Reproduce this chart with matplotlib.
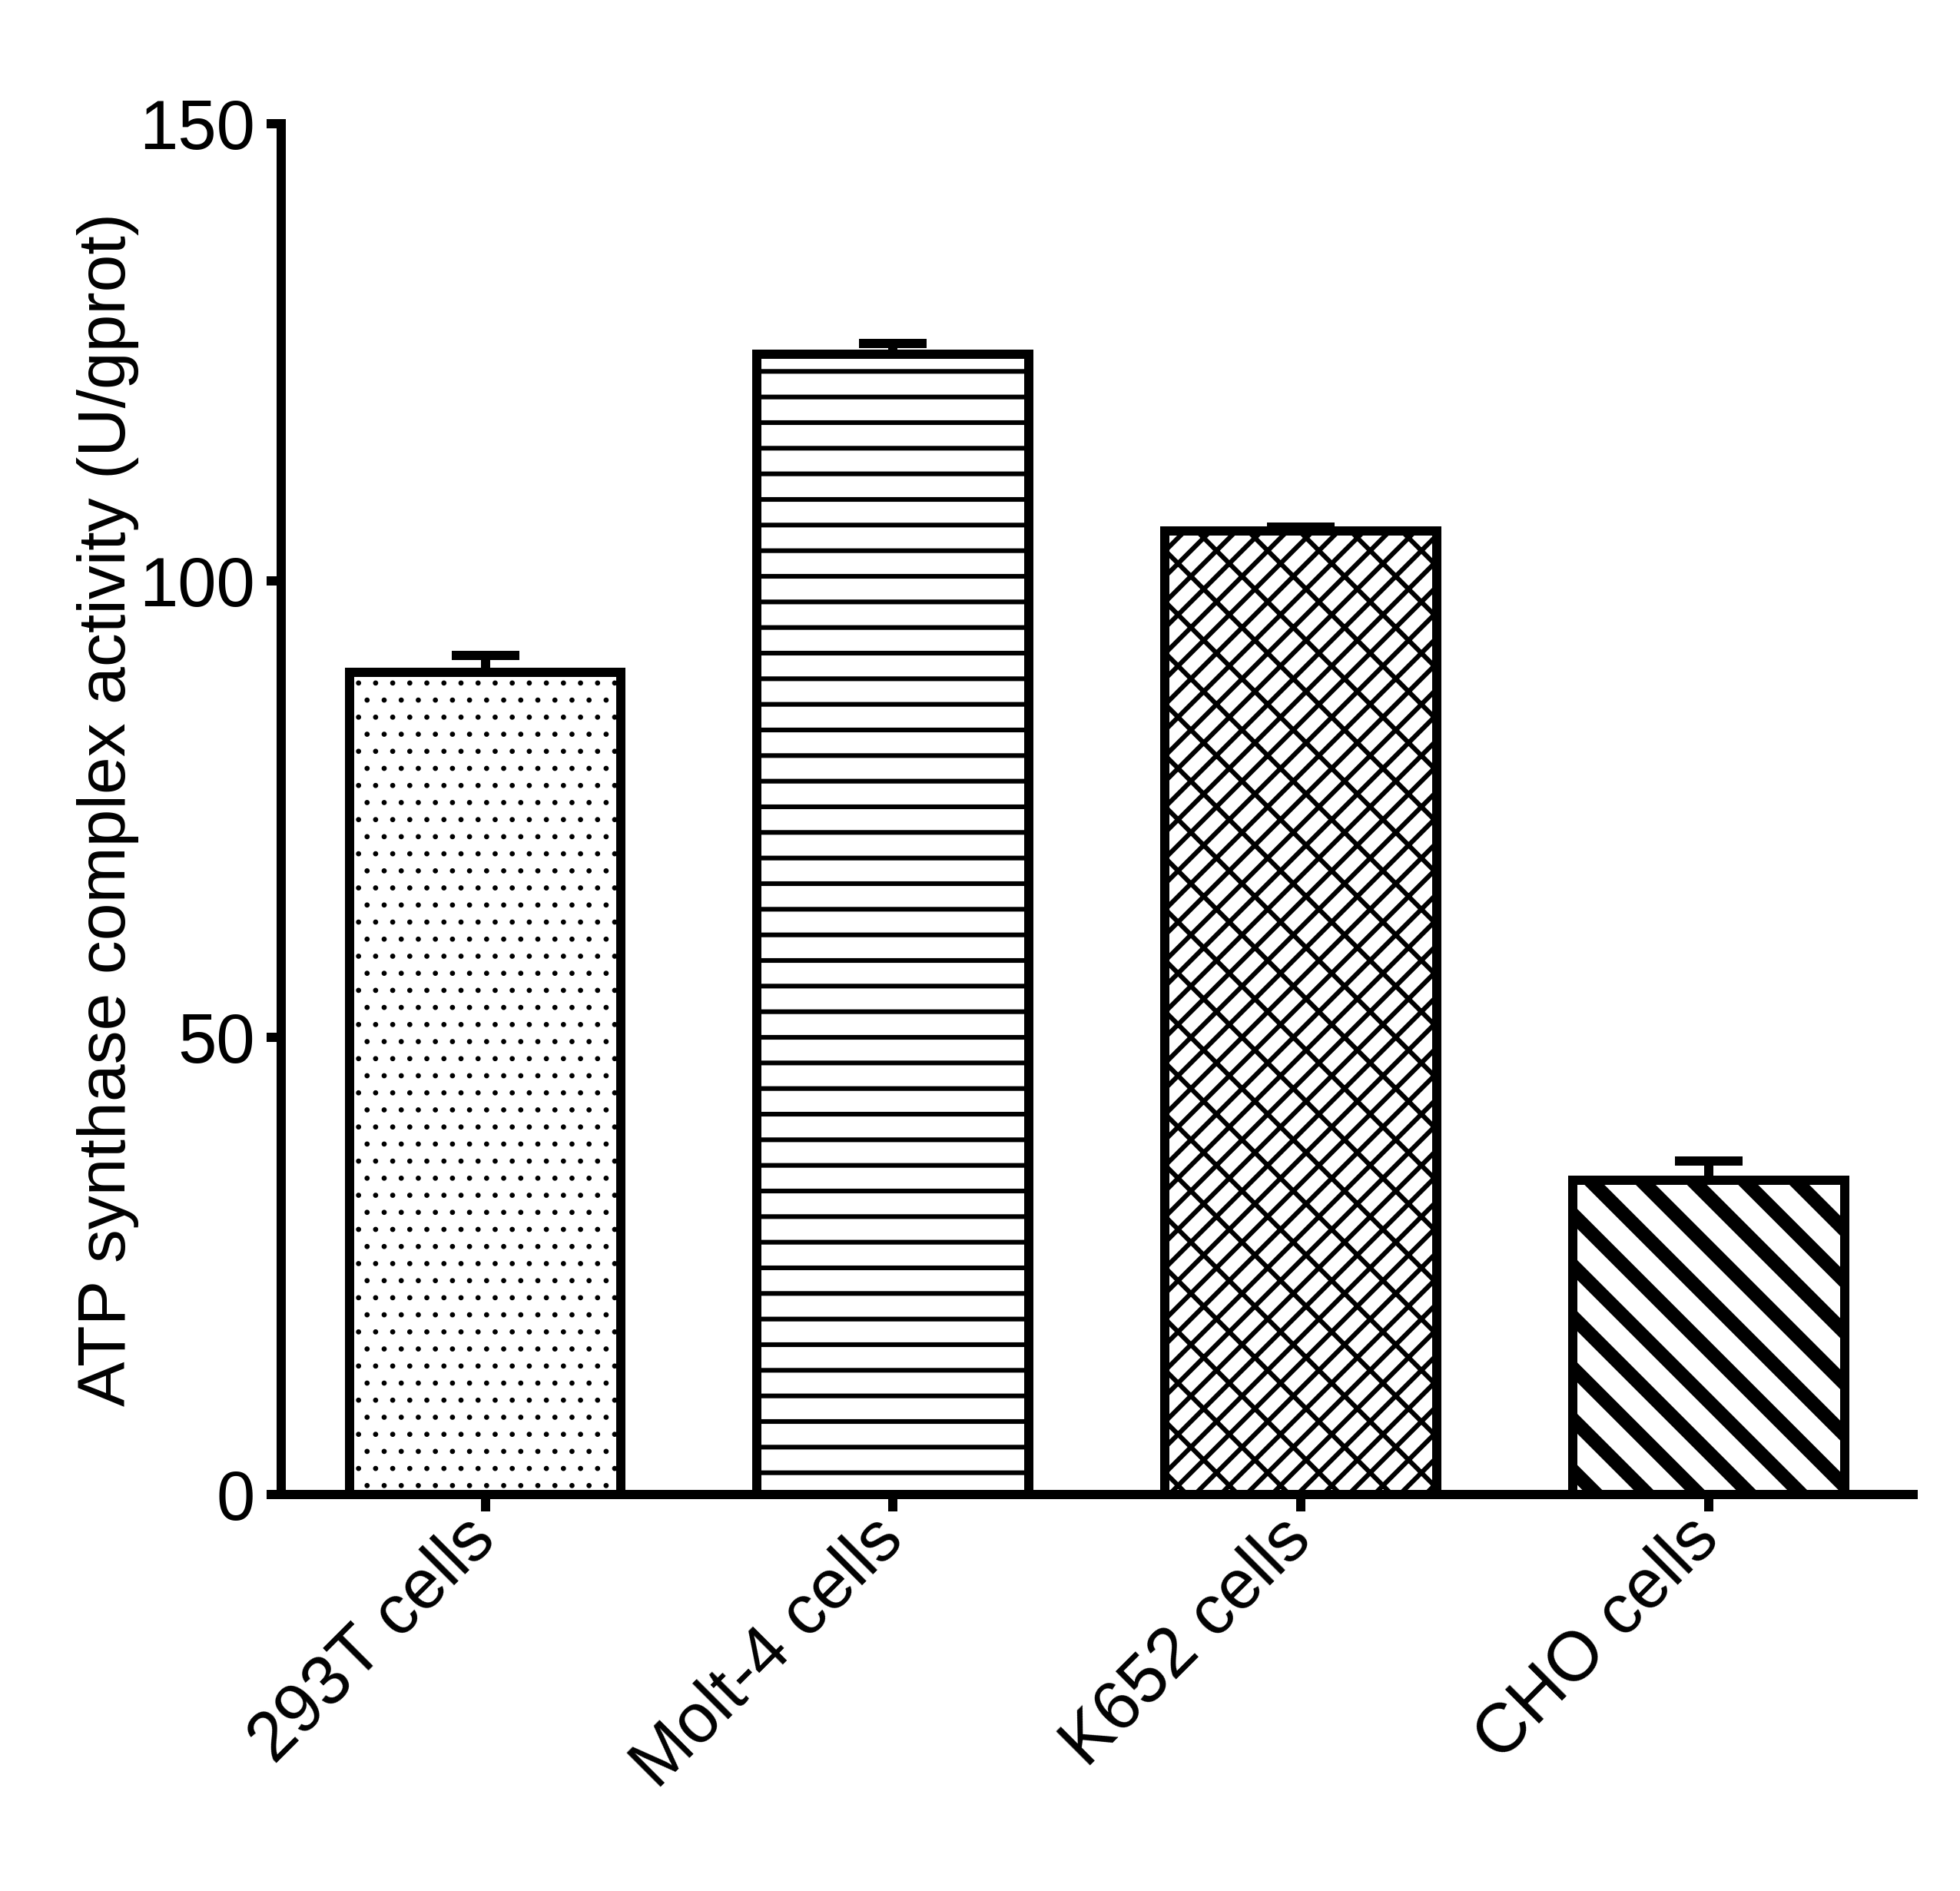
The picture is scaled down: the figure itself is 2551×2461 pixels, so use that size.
import matplotlib
matplotlib.use("Agg")
import matplotlib.pyplot as plt

# values
cells = ["293T cells", "Molt-4 cells", "K652 cells", "CHO cells"]
activity = [90.0, 124.8, 105.5, 34.4]
sem = [1.8, 1.2, 0.35, 2.1]
y_ticks = [0, 50, 100, 150]

# fill patterns, one per bar (brick-like cross for K652, wide stripes for CHO)
hatches = ["...", "--", "////\\\\", "\\\\"]
hatch_widths = [0.4, 1.1, 1.1, 3.3]

plt.rcParams["font.family"] = ["Liberation Sans", "DejaVu Sans"]

DPI = 400
LW = 2.16


def main():
    fig = plt.figure(figsize=(2551 / DPI, 2461 / DPI), dpi=DPI)
    ax = fig.add_axes([0.1435, 0.2097, 0.8324, 0.7247])

    xs = list(range(len(cells)))

    # error bars go under the bars so only the upper half shows
    ax.errorbar(xs, activity, yerr=[[0] * len(sem), sem], fmt="none",
                ecolor="black", elinewidth=LW, capsize=7.9, capthick=LW,
                zorder=1)

    for i in xs:
        with plt.rc_context({"hatch.linewidth": hatch_widths[i]}):
            bars = ax.bar(i, activity[i], width=2 / 3, color="white",
                          edgecolor="black", linewidth=LW,
                          hatch=hatches[i], zorder=2)
        for b in bars:
            if hasattr(b, "set_hatch_linewidth"):
                b.set_hatch_linewidth(hatch_widths[i])

    ax.set_xlim(-0.5, len(cells) - 0.5)
    ax.set_ylim(0, 150)
    ax.set_yticks(y_ticks)
    ax.set_xticks(xs)
    ax.set_xticklabels(cells, rotation=45, ha="right", va="center",
                       rotation_mode="anchor")

    for side in ["top", "right"]:
        ax.spines[side].set_visible(False)
    for side in ["left", "bottom"]:
        ax.spines[side].set_linewidth(LW)

    ax.tick_params(axis="both", width=LW, colors="black", direction="out")
    ax.tick_params(axis="y", length=3.42, pad=2.7, labelsize=16.3)
    ax.tick_params(axis="x", length=4.0, pad=4.1, labelsize=16.3)

    ax.set_ylabel("ATP synthase complex activity (U/gprot)", fontsize=15.8,
                  labelpad=0)

    fig.savefig("out.png", dpi=DPI)


if __name__ == "__main__":
    main()
